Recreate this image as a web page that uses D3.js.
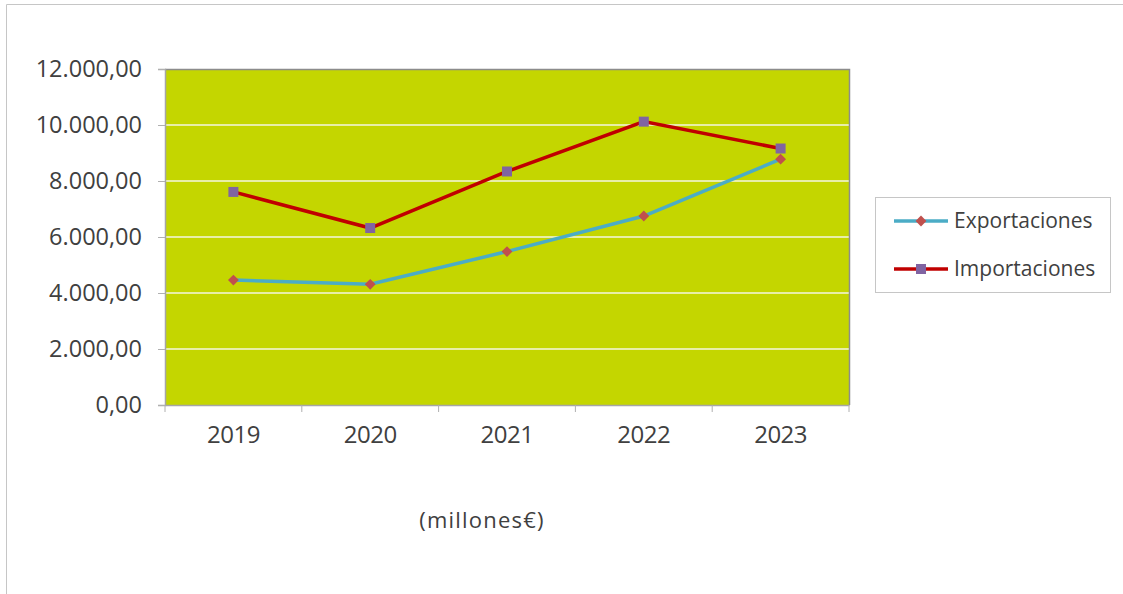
<!DOCTYPE html>
<html>
<head>
<meta charset="utf-8">
<script src="https://cdn.jsdelivr.net/npm/d3@7"></script>
<style>
  body { margin: 0; background: #fff; }
  svg text { font-family: "Open Sans", sans-serif; fill: #404040; }
</style>
</head>
<body>
<div id="viz"></div>
<script>
// chart data
const years = ["2019", "2020", "2021", "2022", "2023"];
const exportaciones = [4460, 4310, 5480, 6750, 8780];
const importaciones = [7610, 6320, 8340, 10120, 9160];
const yTicks = [0, 2000, 4000, 6000, 8000, 10000, 12000];

const width = 1123, height = 594;
const plot = { left: 165, top: 69, right: 849, bottom: 405 };

const svg = d3.select("#viz").append("svg")
    .attr("width", width)
    .attr("height", height);

// outer frame (left + top only)
svg.append("path")
    .attr("d", "M6.5," + height + "V4.5H" + width)
    .attr("fill", "none")
    .attr("stroke", "#c6c6c6");

const x = d3.scaleBand()
    .domain(years)
    .range([plot.left, plot.right]);
const y = d3.scaleLinear()
    .domain([0, 12000])
    .range([plot.bottom, plot.top]);

// plot background
svg.append("rect")
    .attr("x", plot.left).attr("y", plot.top)
    .attr("width", plot.right - plot.left)
    .attr("height", plot.bottom - plot.top)
    .attr("fill", "#c4d600");

// gridlines
svg.append("g").selectAll("line")
  .data(yTicks.filter(d => d > 0 && d < 12000))
  .join("line")
    .attr("x1", plot.left).attr("x2", plot.right)
    .attr("y1", d => y(d)).attr("y2", d => y(d))
    .attr("stroke", "#f4f6e0")
    .attr("stroke-width", 1.5);

// top + right border of plot area
svg.append("path")
    .attr("d", "M" + plot.left + "," + (plot.top + 0.5) + "H" + (plot.right + 0.5) + "V" + plot.bottom)
    .attr("fill", "none")
    .attr("stroke", "#8c8c8c")
    .attr("stroke-width", 1.5);

const fmt = d3.formatLocale({ decimal: ",", thousands: ".", grouping: [3], currency: ["", "€"] }).format(",.2f");

// y axis
const yAxisG = svg.append("g")
    .attr("transform", "translate(" + plot.left + ",0)")
    .call(d3.axisLeft(y).tickValues(yTicks).tickFormat(fmt).tickSize(7).tickPadding(16));
yAxisG.select(".domain").attr("stroke", "#a6a6a6").attr("stroke-width", 1.5);
yAxisG.selectAll(".tick line").attr("stroke", "#b0b0b0");
yAxisG.selectAll("text")
    .style("font-size", "23.5px")
    .style("fill", "#404040");

// x axis
const xAxisG = svg.append("g")
    .attr("transform", "translate(0," + plot.bottom + ")")
    .call(d3.axisBottom(x).tickSize(0));
xAxisG.select(".domain").attr("stroke", "#a6a6a6").attr("stroke-width", 1.5);
xAxisG.selectAll(".tick text")
    .attr("y", 30).attr("dy", "0.35em")
    .style("font-size", "24px")
    .style("letter-spacing", "-0.5px")
    .style("fill", "#404040");
// category boundary ticks
xAxisG.append("g").selectAll("line")
  .data(years.map(d => x(d)).concat([plot.right]))
  .join("line")
    .attr("x1", d => d).attr("x2", d => d)
    .attr("y1", 0).attr("y2", 7)
    .attr("stroke", "#b0b0b0");

const cx = d => x(d) + x.bandwidth() / 2;
const line = d3.line().x(d => cx(d.year)).y(d => y(d.value));

const series = [
  { name: "Exportaciones", values: exportaciones, color: "#4bacc6", marker: "diamond", markerColor: "#c0504d" },
  { name: "Importaciones", values: importaciones, color: "#c00000", marker: "square", markerColor: "#8064a2" }
];

function drawMarker(g, s, px, py) {
  if (s.marker === "square") {
    g.append("rect")
        .attr("x", px - 5).attr("y", py - 5)
        .attr("width", 10).attr("height", 10)
        .attr("fill", s.markerColor);
  } else {
    g.append("path")
        .attr("d", d3.symbol(d3.symbolDiamond2, 75)())
        .attr("transform", "translate(" + px + "," + py + ")")
        .attr("fill", s.markerColor);
  }
}

series.forEach(s => {
  const pts = years.map((yr, i) => ({ year: yr, value: s.values[i] }));
  svg.append("path")
      .datum(pts)
      .attr("d", line)
      .attr("fill", "none")
      .attr("stroke", s.color)
      .attr("stroke-width", 3.5);
  const g = svg.append("g");
  pts.forEach(p => drawMarker(g, s, cx(p.year), y(p.value)));
});

// legend
const legend = svg.append("g");
legend.append("rect")
    .attr("x", 875.5).attr("y", 197.5)
    .attr("width", 235).attr("height", 95)
    .attr("fill", "#fff")
    .attr("stroke", "#c6c6c6");
series.forEach((s, i) => {
  const ly = 221 + i * 48;
  legend.append("line")
      .attr("x1", 894).attr("x2", 948)
      .attr("y1", ly).attr("y2", ly)
      .attr("stroke", s.color)
      .attr("stroke-width", 3.5);
  drawMarker(legend, s, 921, ly);
  legend.append("text")
      .attr("x", 954).attr("y", ly)
      .attr("dy", "0.35em")
      .style("font-size", "21px")
      .text(s.name);
});

// unit label
svg.append("text")
    .attr("x", 482).attr("y", 520)
    .attr("text-anchor", "middle")
    .attr("dy", "0.35em")
    .style("font-size", "22px")
    .style("letter-spacing", "1.2px")
    .text("(millones€)");
</script>
</body>
</html>
